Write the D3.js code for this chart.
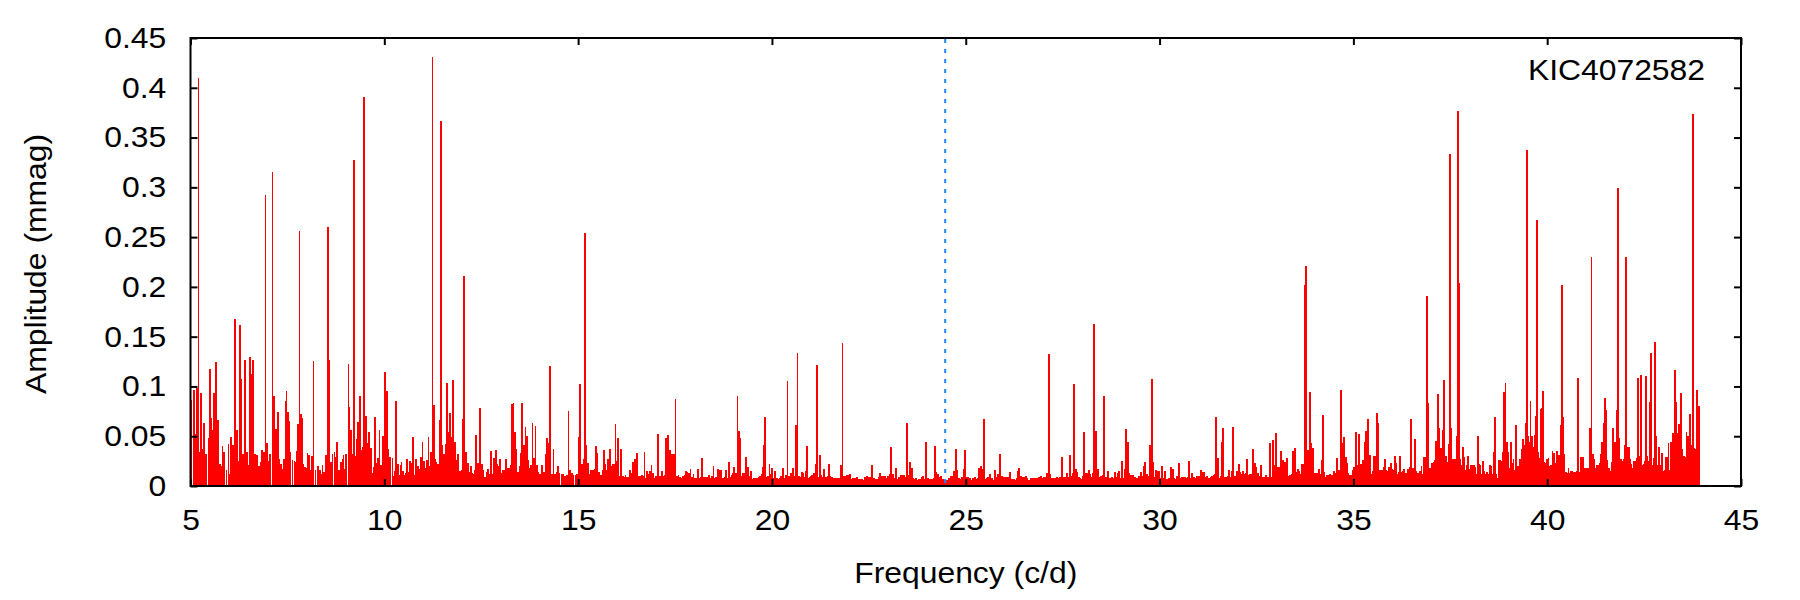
<!DOCTYPE html>
<html>
<head>
<meta charset="utf-8">
<script src="https://cdn.jsdelivr.net/npm/d3@7"></script>
<style>
  html, body { margin: 0; padding: 0; background: #fff; }
  svg { display: block; }
  text { font-family: "Liberation Sans", Arial, Helvetica, sans-serif; fill: #000; }
</style>
</head>
<body>
<svg id="chart" width="1800" height="600"></svg>
<script>
// ---------------- DATA (frequency c/d, amplitude mmag) ----------------
const spectrum05to15 = [
[5.02,0.086],[5.086,0.096],[5.138,0.052],[5.172,0.098],[5.206,0.410],[5.241,0.034],[5.275,0.093],[5.310,0.037],[5.353,0.063],[5.404,0.032],
[5.464,0.048],[5.507,0.118],[5.542,0.068],[5.576,0.056],[5.610,0.093],[5.662,0.125],[5.714,0.066],[5.757,0.022],[5.782,0.020],[5.825,0.040],
[5.868,0.034],[5.929,0.016],[5.980,0.042],[6.015,0.012],[6.049,0.049],[6.092,0.041],[6.118,0.026],[6.152,0.168],[6.195,0.056],[6.230,0.025],
[6.281,0.162],[6.316,0.107],[6.350,0.032],[6.376,0.030],[6.410,0.127],[6.453,0.034],[6.496,0.021],[6.539,0.130],[6.582,0.112],[6.616,0.127],
[6.659,0.032],[6.720,0.031],[6.763,0.020],[6.806,0.024],[6.849,0.036],[6.892,0.034],[6.935,0.292],[6.969,0.043],[7.003,0.025],[7.046,0.032],
[7.115,0.315],[7.158,0.090],[7.210,0.057],[7.262,0.074],[7.296,0.027],[7.339,0.022],[7.374,0.017],[7.408,0.027],[7.451,0.085],[7.477,0.095],
[7.511,0.074],[7.546,0.065],[7.580,0.034],[7.632,0.026],[7.683,0.025],[7.718,0.024],[7.752,0.035],[7.778,0.062],[7.812,0.256],[7.846,0.072],
[7.872,0.068],[7.906,0.022],[7.949,0.019],[7.975,0.018],[8.018,0.033],[8.061,0.031],[8.104,0.016],[8.139,0.030],[8.173,0.126],[8.225,0.016],
[8.294,0.020],[8.337,0.016],[8.380,0.012],[8.405,0.021],[8.448,0.014],[8.500,0.031],[8.552,0.260],[8.586,0.127],[8.629,0.024],[8.663,0.032],
[8.715,0.034],[8.749,0.029],[8.784,0.044],[8.835,0.016],[8.878,0.024],[8.921,0.027],[8.947,0.031],[8.981,0.017],[9.016,0.032],[9.076,0.123],
[9.102,0.079],[9.136,0.056],[9.170,0.032],[9.213,0.327],[9.256,0.030],[9.291,0.047],[9.325,0.064],[9.377,0.090],[9.411,0.036],[9.446,0.039],
[9.480,0.391],[9.532,0.070],[9.575,0.043],[9.609,0.054],[9.652,0.038],[9.695,0.013],[9.729,0.019],[9.764,0.069],[9.798,0.023],[9.832,0.028],
[9.875,0.056],[9.910,0.021],[9.961,0.050],[10.021,0.115],[10.073,0.095],[10.108,0.037],[10.150,0.029],[10.211,0.028],[10.245,0.010],[10.280,0.015],
[10.305,0.085],[10.348,0.022],[10.383,0.011],[10.417,0.021],[10.443,0.024],[10.477,0.015],[10.520,0.011],[10.555,0.013],[10.589,0.027],[10.623,0.014],
[10.666,0.025],[10.701,0.023],[10.744,0.049],[10.787,0.011],[10.821,0.027],[10.864,0.020],[10.907,0.017],[10.950,0.029],[10.985,0.044],[11.019,0.025],
[11.053,0.018],[11.096,0.026],[11.139,0.049],[11.174,0.020],[11.208,0.034],[11.242,0.431],[11.277,0.081],[11.311,0.027],[11.346,0.024],[11.389,0.022],
[11.432,0.066],[11.466,0.367],[11.500,0.041],[11.543,0.032],[11.586,0.042],[11.621,0.103],[11.664,0.054],[11.698,0.073],[11.741,0.049],[11.776,0.106],
[11.819,0.044],[11.870,0.026],[11.905,0.032],[11.948,0.015],[11.991,0.016],[12.034,0.067],[12.059,0.211],[12.102,0.034],[12.154,0.023],[12.188,0.014],
[12.231,0.020],[12.274,0.013],[12.309,0.012],[12.343,0.016],[12.369,0.051],[12.421,0.023],[12.472,0.078],[12.524,0.022],[12.558,0.016],[12.593,0.009],
[12.636,0.014],[12.670,0.017],[12.704,0.012],[12.747,0.035],[12.790,0.012],[12.825,0.028],[12.876,0.036],[12.919,0.022],[12.954,0.020],[12.979,0.027],
[13.022,0.013],[13.065,0.016],[13.100,0.016],[13.143,0.027],[13.186,0.018],[13.229,0.018],[13.263,0.021],[13.297,0.082],[13.332,0.083],[13.366,0.054],
[13.409,0.037],[13.452,0.014],[13.487,0.020],[13.512,0.033],[13.555,0.083],[13.598,0.041],[13.641,0.059],[13.676,0.050],[13.710,0.026],[13.753,0.018],
[13.788,0.021],[13.822,0.063],[13.856,0.028],[13.899,0.060],[13.934,0.021],[13.977,0.014],[14.020,0.012],[14.071,0.021],[14.114,0.014],[14.157,0.032],
[14.200,0.048],[14.243,0.043],[14.278,0.121],[14.321,0.012],[14.364,0.037],[14.407,0.012],[14.450,0.014],[14.484,0.020],[14.519,0.013],[14.570,0.012],
[14.613,0.012],[14.665,0.010],[14.708,0.011],[14.751,0.075],[14.785,0.016],[14.837,0.013],[14.880,0.011],[14.932,0.011],[14.974,0.012],[15.009,0.049],
[15.052,0.102],[15.095,0.022],[15.138,0.027]
];
const spectrum15to25 = [
[15.179,0.254],[15.214,0.041],[15.248,0.023],[15.283,0.012],[15.334,0.016],[15.386,0.016],[15.429,0.017],[15.463,0.040],[15.498,0.033],[15.532,0.014],
[15.575,0.011],[15.609,0.011],[15.644,0.016],[15.670,0.036],[15.704,0.022],[15.738,0.016],[15.773,0.027],[15.824,0.037],[15.859,0.020],[15.893,0.022],
[15.927,0.022],[15.962,0.062],[15.996,0.025],[16.031,0.048],[16.065,0.010],[16.108,0.037],[16.151,0.010],[16.185,0.009],[16.220,0.011],[16.263,0.009],
[16.306,0.009],[16.340,0.016],[16.383,0.013],[16.418,0.024],[16.461,0.027],[16.512,0.033],[16.555,0.010],[16.598,0.010],[16.641,0.011],[16.676,0.010],
[16.710,0.034],[16.744,0.008],[16.779,0.015],[16.822,0.012],[16.848,0.015],[16.891,0.021],[16.925,0.013],[16.959,0.008],[17.002,0.010],[17.037,0.010],
[17.062,0.052],[17.105,0.010],[17.140,0.010],[17.174,0.015],[17.209,0.010],[17.243,0.011],[17.277,0.048],[17.320,0.051],[17.363,0.036],[17.398,0.010],
[17.432,0.032],[17.475,0.032],[17.510,0.087],[17.544,0.010],[17.587,0.011],[17.621,0.009],[17.664,0.008],[17.707,0.010],[17.742,0.011],[17.776,0.015],
[17.811,0.014],[17.854,0.013],[17.897,0.017],[17.931,0.009],[17.974,0.012],[18.017,0.008],[18.060,0.008],[18.094,0.017],[18.137,0.008],[18.172,0.009],
[18.206,0.028],[18.241,0.009],[18.284,0.009],[18.327,0.009],[18.370,0.011],[18.404,0.008],[18.447,0.010],[18.490,0.020],[18.524,0.008],[18.567,0.009],
[18.610,0.017],[18.636,0.016],[18.679,0.016],[18.713,0.008],[18.756,0.008],[18.791,0.009],[18.825,0.016],[18.860,0.008],[18.894,0.024],[18.928,0.009],
[18.963,0.011],[18.997,0.013],[19.031,0.019],[19.074,0.013],[19.109,0.090],[19.143,0.055],[19.186,0.048],[19.221,0.010],[19.255,0.013],[19.298,0.013],
[19.341,0.029],[19.375,0.019],[19.418,0.010],[19.461,0.015],[19.496,0.007],[19.539,0.008],[19.582,0.008],[19.625,0.008],[19.659,0.009],[19.702,0.010],
[19.737,0.012],[19.771,0.019],[19.797,0.041],[19.831,0.069],[19.866,0.009],[19.900,0.010],[19.935,0.022],[19.969,0.012],[20.003,0.018],[20.046,0.008],
[20.081,0.015],[20.124,0.008],[20.167,0.007],[20.201,0.008],[20.244,0.010],[20.287,0.018],[20.321,0.008],[20.364,0.011],[20.399,0.105],[20.433,0.010],
[20.467,0.008],[20.502,0.013],[20.536,0.018],[20.579,0.010],[20.614,0.061],[20.657,0.134],[20.691,0.010],[20.734,0.009],[20.768,0.014],[20.803,0.013],
[20.837,0.009],[20.880,0.015],[20.906,0.040],[20.940,0.008],[20.975,0.009],[21.009,0.010],[21.043,0.011],[21.095,0.013],[21.130,0.022],[21.164,0.122],
[21.198,0.009],[21.233,0.031],[21.267,0.011],[21.310,0.009],[21.345,0.017],[21.388,0.009],[21.431,0.010],[21.474,0.022],[21.508,0.010],[21.551,0.009],
[21.594,0.008],[21.637,0.008],[21.680,0.008],[21.723,0.008],[21.757,0.008],[21.783,0.021],[21.818,0.144],[21.852,0.010],[21.895,0.010],[21.938,0.011],
[21.981,0.011],[22.015,0.012],[22.058,0.007],[22.101,0.008],[22.144,0.008],[22.187,0.009],[22.230,0.007],[22.273,0.007],[22.316,0.007],[22.368,0.006],
[22.411,0.009],[22.454,0.010],[22.497,0.009],[22.540,0.009],[22.583,0.021],[22.626,0.008],[22.669,0.007],[22.712,0.007],[22.755,0.009],[22.789,0.013],
[22.832,0.010],[22.875,0.010],[22.918,0.010],[22.961,0.008],[23.004,0.010],[23.047,0.012],[23.081,0.039],[23.124,0.012],[23.167,0.008],[23.202,0.018],
[23.245,0.007],[23.288,0.009],[23.331,0.011],[23.365,0.011],[23.400,0.011],[23.443,0.009],[23.486,0.063],[23.529,0.011],[23.572,0.024],[23.606,0.018],
[23.649,0.008],[23.692,0.007],[23.726,0.008],[23.761,0.006],[23.795,0.007],[23.829,0.007],[23.872,0.009],[23.907,0.010],[23.950,0.007],[23.984,0.044],
[24.019,0.008],[24.053,0.007],[24.096,0.007],[24.139,0.007],[24.173,0.008],[24.208,0.040],[24.242,0.014],[24.285,0.012],[24.328,0.009],[24.371,0.010],
[24.414,0.007],[24.457,0.006],[24.500,0.006],[24.535,0.006],[24.578,0.008],[24.612,0.010],[24.655,0.010],[24.698,0.015],[24.741,0.037],[24.776,0.016],
[24.819,0.008],[24.862,0.007],[24.905,0.009],[24.948,0.017],[24.982,0.036],[25.025,0.009],[25.068,0.009],[25.111,0.008],[25.154,0.006],[25.197,0.008],
[25.240,0.009],[25.274,0.007],[25.309,0.008],[25.352,0.018]
];
const spectrum25to36 = [
[25.394,0.020],[25.429,0.017],[25.472,0.067],[25.506,0.007],[25.540,0.008],[25.575,0.009],[25.626,0.012],[25.669,0.008],[25.712,0.006],[25.755,0.016],
[25.790,0.009],[25.833,0.012],[25.867,0.012],[25.893,0.032],[25.936,0.010],[25.970,0.009],[26.013,0.009],[26.056,0.009],[26.108,0.009],[26.151,0.014],
[26.194,0.007],[26.237,0.007],[26.280,0.006],[26.323,0.008],[26.357,0.015],[26.383,0.018],[26.426,0.010],[26.469,0.009],[26.512,0.009],[26.546,0.010],
[26.589,0.008],[26.632,0.006],[26.675,0.008],[26.718,0.008],[26.761,0.008],[26.804,0.008],[26.847,0.008],[26.890,0.009],[26.933,0.010],[26.976,0.008],
[27.019,0.009],[27.062,0.009],[27.105,0.013],[27.148,0.133],[27.183,0.012],[27.226,0.008],[27.269,0.008],[27.312,0.008],[27.355,0.009],[27.398,0.008],
[27.441,0.009],[27.484,0.029],[27.527,0.009],[27.570,0.009],[27.613,0.013],[27.656,0.009],[27.690,0.031],[27.724,0.010],[27.759,0.013],[27.793,0.102],
[27.836,0.017],[27.870,0.014],[27.914,0.009],[27.948,0.008],[27.982,0.007],[28.025,0.010],[28.060,0.054],[28.094,0.013],[28.129,0.013],[28.172,0.016],
[28.215,0.012],[28.258,0.009],[28.283,0.013],[28.318,0.163],[28.352,0.055],[28.386,0.010],[28.421,0.017],[28.455,0.009],[28.498,0.010],[28.541,0.011],
[28.576,0.090],[28.610,0.009],[28.644,0.008],[28.679,0.015],[28.722,0.008],[28.765,0.009],[28.808,0.008],[28.851,0.014],[28.885,0.009],[28.920,0.013],
[28.954,0.015],[28.997,0.008],[29.040,0.025],[29.074,0.008],[29.109,0.017],[29.143,0.057],[29.178,0.044],[29.212,0.013],[29.255,0.011],[29.289,0.010],
[29.324,0.011],[29.358,0.009],[29.401,0.008],[29.444,0.008],[29.479,0.010],[29.513,0.014],[29.556,0.010],[29.590,0.020],[29.633,0.024],[29.676,0.012],
[29.719,0.010],[29.754,0.041],[29.797,0.107],[29.831,0.024],[29.866,0.009],[29.909,0.016],[29.952,0.015],[29.986,0.015],[30.029,0.008],[30.072,0.020],
[30.106,0.008],[30.149,0.015],[30.192,0.007],[30.235,0.008],[30.270,0.008],[30.304,0.019],[30.338,0.017],[30.381,0.008],[30.424,0.007],[30.459,0.010],
[30.493,0.023],[30.536,0.008],[30.579,0.009],[30.622,0.009],[30.665,0.009],[30.708,0.008],[30.742,0.009],[30.768,0.025],[30.811,0.008],[30.846,0.013],
[30.889,0.009],[30.932,0.008],[30.966,0.010],[31.009,0.010],[31.052,0.010],[31.078,0.016],[31.112,0.014],[31.147,0.014],[31.190,0.009],[31.233,0.010],
[31.276,0.008],[31.319,0.009],[31.362,0.010],[31.396,0.011],[31.430,0.012],[31.465,0.069],[31.499,0.028],[31.534,0.008],[31.577,0.010],[31.611,0.044],
[31.645,0.058],[31.688,0.009],[31.731,0.009],[31.766,0.010],[31.800,0.016],[31.835,0.009],[31.869,0.015],[31.903,0.059],[31.938,0.010],[31.972,0.008],
[32.006,0.015],[32.049,0.022],[32.084,0.014],[32.127,0.012],[32.161,0.015],[32.196,0.012],[32.239,0.013],[32.265,0.027],[32.307,0.011],[32.342,0.012],
[32.385,0.012],[32.419,0.037],[32.454,0.023],[32.497,0.019],[32.540,0.013],[32.583,0.010],[32.626,0.021],[32.669,0.009],[32.703,0.009],[32.746,0.011],
[32.789,0.009],[32.824,0.009],[32.849,0.043],[32.892,0.009],[32.927,0.046],[32.970,0.021],[33.004,0.053],[33.038,0.019],[33.081,0.019],[33.107,0.019],
[33.141,0.035],[33.176,0.026],[33.210,0.019],[33.245,0.024],[33.288,0.028],[33.331,0.010],[33.374,0.011],[33.408,0.012],[33.442,0.035],[33.485,0.038],
[33.520,0.014],[33.563,0.017],[33.606,0.015],[33.649,0.012],[33.683,0.022],[33.718,0.022],[33.743,0.202],[33.778,0.221],[33.812,0.036],[33.846,0.036],
[33.881,0.094],[33.915,0.043],[33.958,0.038],[33.993,0.013],[34.036,0.013],[34.070,0.013],[34.113,0.017],[34.147,0.012],[34.182,0.026],[34.216,0.071],
[34.250,0.014],[34.285,0.009],[34.319,0.011],[34.354,0.011],[34.388,0.012],[34.422,0.011],[34.457,0.011],[34.491,0.015],[34.526,0.013],[34.560,0.012],
[34.586,0.028],[34.620,0.016],[34.655,0.014],[34.689,0.096],[34.723,0.043],[34.758,0.049],[34.801,0.029],[34.835,0.023],[34.870,0.013],[34.913,0.011],
[34.947,0.011],[34.990,0.016],[35.024,0.019],[35.067,0.054],[35.102,0.021],[35.145,0.052],[35.179,0.022],[35.222,0.022],[35.257,0.026],[35.291,0.044],
[35.326,0.055],[35.369,0.067],[35.403,0.027],[35.437,0.031],[35.472,0.012],[35.506,0.015],[35.540,0.030],[35.575,0.030],[35.609,0.073],[35.644,0.063],
[35.678,0.016]
];
const spectrum36to44 = [
[35.711,0.014],[35.746,0.016],[35.780,0.019],[35.814,0.027],[35.849,0.016],[35.883,0.015],[35.926,0.019],[35.969,0.023],[36.004,0.017],[36.038,0.016],
[36.072,0.030],[36.107,0.023],[36.141,0.012],[36.176,0.014],[36.210,0.030],[36.244,0.014],[36.279,0.015],[36.313,0.017],[36.347,0.013],[36.382,0.013],
[36.416,0.017],[36.451,0.019],[36.485,0.067],[36.519,0.018],[36.554,0.018],[36.588,0.047],[36.623,0.015],[36.657,0.013],[36.691,0.013],[36.726,0.015],
[36.760,0.020],[36.795,0.012],[36.829,0.029],[36.863,0.029],[36.898,0.191],[36.932,0.083],[36.967,0.018],[37.001,0.014],[37.035,0.023],[37.070,0.024],
[37.104,0.026],[37.138,0.045],[37.173,0.092],[37.207,0.058],[37.242,0.038],[37.276,0.038],[37.302,0.056],[37.328,0.106],[37.362,0.023],[37.397,0.030],
[37.431,0.024],[37.465,0.042],[37.491,0.333],[37.526,0.058],[37.560,0.027],[37.594,0.024],[37.629,0.027],[37.663,0.050],[37.697,0.377],[37.723,0.204],
[37.758,0.027],[37.792,0.021],[37.826,0.039],[37.861,0.029],[37.895,0.016],[37.930,0.021],[37.964,0.030],[37.998,0.017],[38.033,0.021],[38.067,0.021],
[38.102,0.021],[38.136,0.019],[38.170,0.012],[38.205,0.050],[38.239,0.022],[38.274,0.021],[38.317,0.012],[38.351,0.025],[38.385,0.015],[38.420,0.012],
[38.454,0.014],[38.489,0.012],[38.523,0.021],[38.557,0.020],[38.592,0.012],[38.626,0.034],[38.652,0.069],[38.686,0.012],[38.721,0.008],[38.755,0.026],
[38.790,0.026],[38.824,0.025],[38.858,0.034],[38.884,0.094],[38.927,0.103],[38.961,0.044],[38.996,0.034],[39.030,0.018],[39.065,0.044],[39.099,0.023],
[39.133,0.027],[39.168,0.016],[39.202,0.061],[39.237,0.020],[39.271,0.016],[39.305,0.027],[39.340,0.037],[39.374,0.047],[39.408,0.041],[39.443,0.063],
[39.477,0.338],[39.512,0.050],[39.546,0.044],[39.572,0.085],[39.606,0.050],[39.641,0.039],[39.675,0.051],[39.710,0.070],[39.744,0.267],[39.770,0.034],
[39.804,0.028],[39.838,0.077],[39.873,0.078],[39.899,0.095],[39.933,0.024],[39.967,0.023],[40.002,0.027],[40.036,0.028],[40.071,0.020],[40.105,0.021],
[40.139,0.035],[40.174,0.033],[40.208,0.023],[40.243,0.035],[40.277,0.030],[40.311,0.031],[40.346,0.061],[40.380,0.202],[40.415,0.069],[40.449,0.032],
[40.483,0.014],[40.518,0.013],[40.552,0.018],[40.587,0.013],[40.621,0.015],[40.655,0.015],[40.698,0.014],[40.733,0.014],[40.767,0.015],[40.801,0.108],
[40.836,0.014],[40.870,0.029],[40.905,0.029],[40.939,0.029],[40.973,0.018],[41.008,0.018],[41.042,0.018],[41.077,0.018],[41.111,0.058],[41.145,0.230],
[41.180,0.032],[41.214,0.027],[41.248,0.018],[41.283,0.021],[41.317,0.021],[41.352,0.023],[41.386,0.032],[41.420,0.044],[41.455,0.063],[41.489,0.088],
[41.524,0.076],[41.558,0.026],[41.592,0.018],[41.627,0.015],[41.661,0.024],[41.696,0.058],[41.730,0.044],[41.764,0.044],[41.799,0.076],[41.833,0.299],
[41.868,0.048],[41.902,0.027],[41.936,0.025],[41.971,0.027],[42.005,0.041],[42.040,0.230],[42.074,0.039],[42.108,0.039],[42.143,0.027],[42.177,0.022],
[42.212,0.018],[42.246,0.025],[42.280,0.025],[42.315,0.028],[42.349,0.108],[42.383,0.030],[42.418,0.111],[42.452,0.021],[42.487,0.022],[42.521,0.025],
[42.547,0.110],[42.581,0.030],[42.616,0.025],[42.650,0.084],[42.685,0.134],[42.719,0.021],[42.753,0.028],[42.788,0.145],[42.822,0.050],[42.856,0.021],
[42.891,0.039],[42.925,0.021],[42.960,0.033],[42.994,0.015],[43.028,0.016],[43.063,0.029],[43.097,0.029],[43.131,0.043],[43.166,0.016],[43.200,0.044],
[43.235,0.053],[43.269,0.053],[43.295,0.117],[43.329,0.084],[43.364,0.053],[43.398,0.062],[43.433,0.052],[43.458,0.093],[43.493,0.037],[43.527,0.030],
[43.561,0.029],[43.596,0.054],[43.630,0.050],[43.665,0.038],[43.690,0.072],[43.725,0.041],[43.759,0.374],[43.793,0.038],[43.828,0.037],[43.862,0.096],
[43.897,0.080],[43.931,0.080]
];

const xTicks = [5, 10, 15, 20, 25, 30, 35, 40, 45];
const yTicks = [0, 0.05, 0.1, 0.15, 0.2, 0.25, 0.3, 0.35, 0.4, 0.45];
const yTickLabels = ["0", "0.05", "0.1", "0.15", "0.2", "0.25", "0.3", "0.35", "0.4", "0.45"];
const nyquistFreq = 24.47;
const xTitle = "Frequency (c/d)";
const yTitle = "Amplitude (mmag)";
const starLabel = "KIC4072582";

// ---------------- DRAW ----------------
const spectrum = [].concat(spectrum05to15, spectrum15to25, spectrum25to36, spectrum36to44)
  .map(d => ({ f: d[0], a: d[1] }));

const L = 190.5, R = 1741, T = 38, B = 486;
const svg = d3.select("#chart");
const x = d3.scaleLinear().domain([5, 45]).range([L, R]);
const y = d3.scaleLinear().domain([0, 0.45]).range([B, T]);

// impulses
svg.append("g")
  .attr("shape-rendering", "crispEdges")
  .selectAll("line")
  .data(spectrum)
  .join("line")
  .attr("x1", d => x(d.f)).attr("x2", d => x(d.f))
  .attr("y1", y(0)).attr("y2", d => y(d.a))
  .attr("stroke", "#ff0000")
  .attr("stroke-width", 1.8);

// nyquist dashed line
svg.append("line")
  .attr("x1", x(nyquistFreq)).attr("x2", x(nyquistFreq))
  .attr("y1", T + 1).attr("y2", B - 1)
  .attr("stroke", "#1a88ff")
  .attr("stroke-width", 2)
  .attr("stroke-dasharray", "4,6");

const fontSize = 29.5;
const stretch = 1.08;
function styleAxis(g) {
  g.select(".domain").remove();
  g.selectAll(".tick line").attr("stroke", "#000").attr("stroke-width", 2);
  g.selectAll(".tick text")
    .attr("font-size", fontSize)
    .attr("font-family", "'Liberation Sans', Arial, sans-serif")
    .attr("fill", "#000")
    .attr("transform", `scale(${stretch},1)`);
}

svg.append("g").attr("transform", `translate(0,${B})`)
  .call(d3.axisBottom(x).tickValues(xTicks).tickSizeInner(-7).tickSizeOuter(0).tickPadding(23).tickFormat(d3.format("d")))
  .call(styleAxis);
svg.append("g").attr("transform", `translate(0,${T})`)
  .call(d3.axisTop(x).tickValues(xTicks).tickSizeInner(-7).tickSizeOuter(0).tickFormat(""))
  .call(styleAxis);
svg.append("g").attr("transform", `translate(${L},0)`)
  .call(d3.axisLeft(y).tickValues(yTicks).tickSizeInner(-7).tickSizeOuter(0).tickPadding(22.5)
    .tickFormat((d, i) => yTickLabels[i]))
  .call(styleAxis);
svg.append("g").attr("transform", `translate(${R},0)`)
  .call(d3.axisRight(y).tickValues(yTicks).tickSizeInner(-7).tickSizeOuter(0).tickFormat(""))
  .call(styleAxis);

// frame
svg.append("rect")
  .attr("x", L).attr("y", T).attr("width", R - L).attr("height", B - T)
  .attr("fill", "none").attr("stroke", "#000").attr("stroke-width", 2);

// titles
svg.append("text")
  .attr("transform", `translate(${(L + R) / 2},583) scale(${stretch},1)`)
  .attr("text-anchor", "middle").attr("font-size", fontSize)
  .text(xTitle);
svg.append("text")
  .attr("transform", `translate(46,${(T + B) / 2 + 2}) rotate(-90) scale(${stretch},1)`)
  .attr("text-anchor", "middle").attr("font-size", fontSize)
  .text(yTitle);
svg.append("text")
  .attr("transform", `translate(1705,80) scale(${stretch},1)`)
  .attr("text-anchor", "end").attr("font-size", fontSize)
  .text(starLabel);
</script>
</body>
</html>
